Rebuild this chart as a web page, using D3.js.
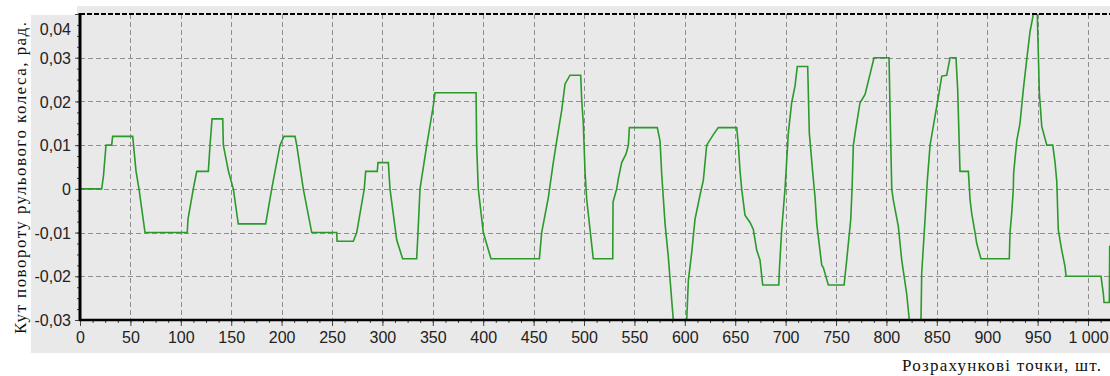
<!DOCTYPE html>
<html>
<head>
<meta charset="utf-8">
<script src="https://cdn.jsdelivr.net/npm/d3@7"></script>
<style>
  body { margin: 0; background: #fff; }
</style>
</head>
<body>
<div id="vis"></div>
<script>
// Data: calculation point number -> steering wheel angle, rad
const pointX = [0, 21.5, 23.3, 25.8, 31.4, 32.4, 52.3, 53.1, 55.6, 58.5, 64.5, 106.4, 107.1, 112.4, 115.8,
  127.3, 129, 131, 141.6, 142.2, 147.3, 152.1, 157, 184.2, 190.2, 198.4, 202.4, 213.3, 215, 221.5,
  229.9, 254.7, 255, 271.1, 274.5, 282, 283.4, 294.9, 295.6, 305.9, 307.5, 314.2, 320.1, 334, 335.3,
  337.3, 344, 350.5, 352.2, 392.9, 393.5, 395.1, 400.1, 407.7, 455.7, 458, 464.6, 469.5, 472.9, 477.9,
  481.2, 486.1, 496.7, 497.7, 499.3, 501, 502.7, 506, 509.2, 528.5, 528.8, 532.4, 534.2, 537.4, 541.7,
  544, 545, 572.7, 575.4, 577, 580.4, 583.6, 587, 588.6, 591.3, 599.2, 601.9, 603.5, 606.9, 610.1,
  615.1, 618.4, 621.7, 628.3, 633.2, 651.5, 653.1, 654.8, 656.4, 659.7, 664.7, 668, 671.3, 674.6,
  677.3, 693.2, 693.8, 696.1, 699.4, 702.7, 706, 709.3, 711.6, 721.9, 723.5, 726.9, 729.2, 730.9,
  735.8, 737.4, 742.4, 758, 760.6, 764.6, 765.9, 767.2, 769.8, 773.8, 778.8, 783.7, 787.7, 802.6,
  803.6, 805.3, 806.8, 811.8, 815.2, 820.1, 822.7, 825.4, 832.3, 834.3, 835, 838.3, 840.6, 843.3,
  846.5, 851.5, 854.9, 859.8, 863.1, 869, 870.7, 873, 881.3, 883, 884.6, 887.9, 889.6, 893.8, 921.9,
  922.6, 924.3, 925.9, 926.2, 929.3, 932.5, 935.8, 939.2, 942.5, 945.8, 947.4, 949.4, 950.7, 951.7,
  954.1, 959.1, 965, 967.3, 969, 970.5, 973.9, 977.2, 978.2, 1012.9, 1015.2, 1015.9, 1021.1, 1021.5];

const angle = [0, 0, 0.003, 0.01, 0.01, 0.012, 0.012, 0.01, 0.004, 0, -0.01, -0.01, -0.007, 0, 0.004,
  0.004, 0.01, 0.016, 0.016, 0.01, 0.004, 0, -0.008, -0.008, 0, 0.01, 0.012, 0.012, 0.01, 0,
  -0.01, -0.01, -0.012, -0.012, -0.01, 0, 0.004, 0.004, 0.006, 0.006, 0, -0.0117, -0.016, -0.016, -0.01,
  0, 0.01, 0.019, 0.022, 0.022, 0.01, 0, -0.01, -0.016, -0.016, -0.01, -0.002, 0.006, 0.011, 0.018,
  0.024, 0.026, 0.026, 0.0204, 0.015, 0.004, -0.0025, -0.0094, -0.016, -0.016, -0.003, 0, 0.0025, 0.006, 0.008,
  0.01, 0.014, 0.014, 0.011, 0.0037, -0.008, -0.0155, -0.0255, -0.03, -0.034, -0.034, -0.03, -0.021, -0.0144, -0.007,
  -0.0014, 0.002, 0.01, 0.0124, 0.014, 0.014, 0.01, 0.004, 0, -0.006, -0.0077, -0.0093, -0.014, -0.0163,
  -0.022, -0.022, -0.0186, -0.0094, 0, 0.0128, 0.0197, 0.0235, 0.028, 0.028, 0.0128, 0.0037, -0.002, -0.008,
  -0.0174, -0.018, -0.022, -0.022, -0.0163, -0.007, 0, 0.01, 0.014, 0.0197, 0.0216, 0.0262, 0.03, 0.03,
  0.018, 0, -0.0025, -0.0086, -0.0163, -0.024, -0.03, -0.034, -0.034, -0.03, -0.0193, -0.007, 0.002, 0.01,
  0.0143, 0.021, 0.0258, 0.026, 0.03, 0.03, 0.0227, 0.004, 0.004, -0.0025, -0.0056, -0.01, -0.0125, -0.016, -0.016,
  -0.01, -0.0056, 0, 0.0036, 0.011, 0.015, 0.0227, 0.0296, 0.036, 0.04, 0.042, 0.042, 0.031, 0.022,
  0.0143, 0.01, 0.01, 0.006, 0.0017, -0.0094, -0.014, -0.0178, -0.02, -0.02, -0.024, -0.026, -0.026, -0.013];

const xTicks = d3.range(0, 1001, 50);
const yTicks = [-0.03, -0.02, -0.01, 0, 0.01, 0.02, 0.03, 0.04];
const yTitle = 'Кут повороту рульового колеса, рад.';
const xTitle = 'Розрахункові точки, шт.';

const data = pointX.map((x, i) => ({x: x, y: angle[i]}));

// chart space
const width = 1110;
const height = 376;
const margin = ({top: 14, right: 0, bottom: 56, left: 80});

const svg = d3.create('svg')
    .attr('width', width)
    .attr('height', height);

// gray panel behind everything
svg.append('rect')
    .attr('x', 31).attr('y', 6)
    .attr('width', width - 31).attr('height', 347)
    .attr('fill', '#e9e9e9');
svg.append('rect')
    .attr('x', 31).attr('y', 0)
    .attr('width', 46).attr('height', 15)
    .attr('fill', '#fff');

const xScale = d3.scaleLinear()
    .domain([0, 1021.8])
    .range([margin.left, width - margin.right]);

const yScale = d3.scaleLinear()
    .domain([-0.03, 0.04])
    .range([height - margin.bottom, margin.top]);

const locale = d3.formatLocale({decimal: ',', thousands: ' ', grouping: [3], currency: ['', ''], minus: '-'});
const fmtY = locale.format('.2f');
const fmtX = locale.format(',d');

svg.append('clipPath')
    .attr('id', 'plot-clip')
  .append('rect')
    .attr('x', margin.left)
    .attr('y', margin.top)
    .attr('width', width - margin.left - margin.right)
    .attr('height', height - margin.top - margin.bottom);

// grid
svg.append('g')
    .selectAll('line')
    .data(xTicks.filter(d => d > 0))
    .join('line')
    .attr('x1', d => Math.round(xScale(d)) + 0.5)
    .attr('x2', d => Math.round(xScale(d)) + 0.5)
    .attr('y1', margin.top)
    .attr('y2', height - margin.bottom)
    .attr('stroke', '#8e8e8e')
    .attr('stroke-dasharray', '5,3');

svg.append('g')
    .selectAll('line')
    .data(yTicks.filter(d => d > -0.03 && d < 0.04))
    .join('line')
    .attr('x1', margin.left)
    .attr('x2', width)
    .attr('y1', d => Math.round(yScale(d)) + 0.5)
    .attr('y2', d => Math.round(yScale(d)) + 0.5)
    .attr('stroke', '#8e8e8e')
    .attr('stroke-dasharray', '5,3');

// the line
const line = d3.line()
    .x(d => xScale(d.x))
    .y(d => yScale(d.y));

svg.append('path')
    .datum(data)
    .attr('clip-path', 'url(#plot-clip)')
    .attr('fill', 'none')
    .attr('stroke', '#2b9a2b')
    .attr('stroke-width', 1.6)
    .attr('stroke-linejoin', 'miter')
    .attr('d', line);

// top border, dashed black
svg.append('line')
    .attr('x1', margin.left).attr('x2', width)
    .attr('y1', margin.top).attr('y2', margin.top)
    .attr('stroke', '#000')
    .attr('stroke-width', 2)
    .attr('stroke-dasharray', '5,2');

// x axis
const xAxis = svg.append('g')
    .attr('transform', `translate(0, ${height - margin.bottom})`)
    .call(d3.axisBottom(xScale).tickValues(d3.range(0, 1021, 12.5)).tickSize(3).tickFormat(''))
    .call(g => g.select('.domain').remove());
xAxis.selectAll('.tick line').attr('stroke', '#444');

const xMajor = svg.append('g')
    .attr('transform', `translate(0, ${height - margin.bottom})`)
    .call(d3.axisBottom(xScale).tickValues(xTicks).tickSize(6).tickPadding(6).tickFormat(fmtX))
    .call(g => g.select('.domain').remove());
xMajor.selectAll('.tick line').attr('stroke', '#444');
xMajor.selectAll('text')
    .attr('font-family', 'Liberation Sans, Arial, sans-serif')
    .attr('font-size', 16)
    .attr('fill', '#222');

svg.append('line')
    .attr('x1', margin.left - 1).attr('x2', width)
    .attr('y1', height - margin.bottom).attr('y2', height - margin.bottom)
    .attr('stroke', '#000')
    .attr('stroke-width', 2.5);

// y axis
const yMinor = svg.append('g')
    .attr('transform', `translate(${margin.left}, 0)`)
    .call(d3.axisLeft(yScale).tickValues(d3.range(-0.03, 0.0401, 0.0025)).tickSize(3).tickFormat(''))
    .call(g => g.select('.domain').remove());
yMinor.selectAll('.tick line').attr('stroke', '#444');

const yMajor = svg.append('g')
    .attr('transform', `translate(${margin.left}, 0)`)
    .call(d3.axisLeft(yScale).tickValues(yTicks).tickSize(5).tickPadding(4).tickFormat(d => fmtY(d).replace(/,00$/, '').replace(/^-?0,00$/, '0')))
    .call(g => g.select('.domain').remove());
yMajor.selectAll('.tick line').attr('stroke', '#444');
yMajor.selectAll('text')
    .attr('font-family', 'Liberation Sans, Arial, sans-serif')
    .attr('font-size', 16)
    .attr('fill', '#222')
    .attr('dy', d => d === 0.04 ? '1.25em' : '0.35em');
yMajor.selectAll('.tick').filter(d => d === 0).select('text').text('0');

svg.append('line')
    .attr('x1', margin.left).attr('x2', margin.left)
    .attr('y1', margin.top - 1).attr('y2', height - margin.bottom + 1)
    .attr('stroke', '#000')
    .attr('stroke-width', 3);

// titles
svg.append('rect')
    .attr('x', 0).attr('y', 0)
    .attr('width', 31).attr('height', height)
    .attr('fill', '#fff');

svg.append('text')
    .attr('transform', 'translate(26, 178) rotate(-90)')
    .attr('text-anchor', 'middle')
    .attr('font-family', 'Liberation Serif, Times New Roman, serif')
    .attr('font-size', 17)
    .attr('fill', '#111')
    .attr('textLength', 312)
    .attr('lengthAdjust', 'spacing')
    .text(yTitle);

svg.append('text')
    .attr('x', 1101)
    .attr('y', 371)
    .attr('text-anchor', 'end')
    .attr('font-family', 'Liberation Serif, Times New Roman, serif')
    .attr('font-size', 17)
    .attr('fill', '#111')
    .attr('textLength', 199)
    .attr('lengthAdjust', 'spacing')
    .text(xTitle);

document.getElementById('vis').appendChild(svg.node());
</script>
</body>
</html>
